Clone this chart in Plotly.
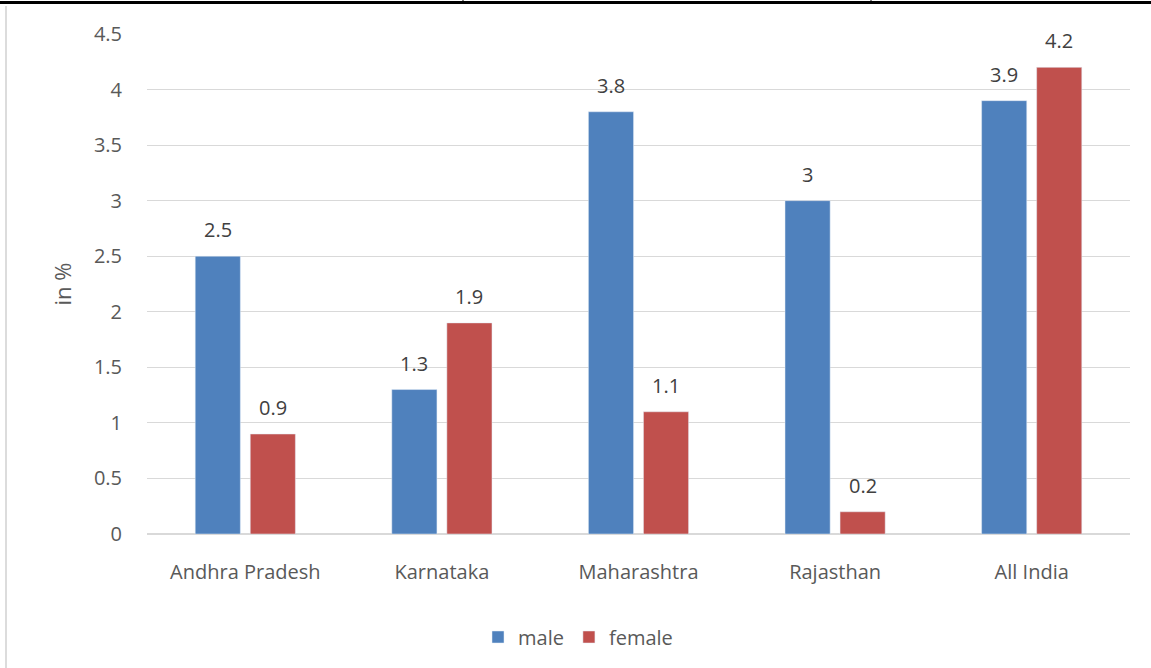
import plotly.graph_objects as go

categories = ["Andhra Pradesh", "Karnataka", "Maharashtra", "Rajasthan", "All India"]
male = [2.5, 1.3, 3.8, 3.0, 3.9]
female = [0.9, 1.9, 1.1, 0.2, 4.2]
y_ticks = [0, 0.5, 1, 1.5, 2, 2.5, 3, 3.5, 4, 4.5]

W, H = 1151, 668
L, R, T, B = 147, 21, 34, 134
pw, ph = W - L - R, H - T - B

def px_x(x):
    return (x - L) / pw

def px_y(y):
    return (H - B - y) / ph

font = "Open Sans, sans-serif"
gray = "#595959"
lbl = "#404040"
FS = 20

fig = go.Figure()
fig.add_trace(go.Bar(name="male", x=categories, y=male, marker_color="#4F81BD"))
fig.add_trace(go.Bar(name="female", x=categories, y=female, marker_color="#C0504D"))

# data labels above bars
annotations = []
for series, shift in ((male, -27.5), (female, 27.5)):
    for c, v in zip(categories, series):
        annotations.append(dict(x=c, y=v, xref="x", yref="y", text=f"{v:g}", showarrow=False,
                                xshift=shift, yanchor="bottom", yshift=11,
                                font=dict(family=font, size=FS, color=lbl)))

shapes = [
    dict(type="line", xref="paper", yref="paper", x0=px_x(0), x1=px_x(W), y0=px_y(2.5), y1=px_y(2.5),
         line=dict(color="black", width=3)),
    dict(type="line", xref="paper", yref="paper", x0=px_x(463), x1=px_x(463), y0=px_y(0), y1=px_y(4),
         line=dict(color="black", width=1)),
    dict(type="line", xref="paper", yref="paper", x0=px_x(871), x1=px_x(871), y0=px_y(0), y1=px_y(4),
         line=dict(color="black", width=1)),
    dict(type="line", xref="paper", yref="paper", x0=px_x(6), x1=px_x(6), y0=px_y(6), y1=px_y(H),
         line=dict(color="#d0d0d0", width=1.5)),
]

fig.update_layout(
    width=W, height=H,
    margin=dict(l=L, r=R, t=T, b=B),
    paper_bgcolor="white", plot_bgcolor="white",
    barmode="group", bargap=0.44, bargroupgap=0.18,
    font=dict(family=font, size=FS, color=gray),
    xaxis=dict(showgrid=False, showline=False, ticks="", ticklabelstandoff=24,
               tickfont=dict(family=font, size=FS, color=gray)),
    yaxis=dict(range=[0, 4.5], tickvals=y_ticks, ticktext=[f"{v:g}" for v in y_ticks],
               gridcolor="#d9d9d9", gridwidth=1, zeroline=True, zerolinecolor="#d9d9d9",
               showline=False, ticks="", ticklabelstandoff=24,
               tickfont=dict(family=font, size=FS, color=gray),
               title=dict(text="in %", font=dict(family=font, size=22, color=gray), standoff=16)),
    legend=dict(orientation="h", x=px_x(478), xanchor="left", y=px_y(637), yanchor="middle",
                font=dict(family=font, size=FS, color=gray), itemwidth=30),
    shapes=shapes,
    annotations=annotations,
    showlegend=True,
)

fig.write_html("out.html")
